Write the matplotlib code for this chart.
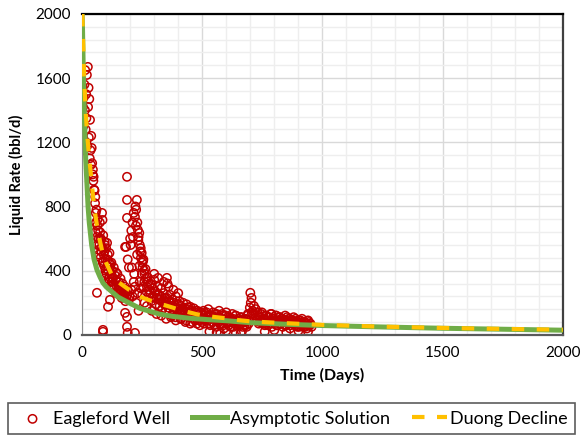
import matplotlib
matplotlib.use('Agg')
import matplotlib.pyplot as plt
from matplotlib.ticker import MultipleLocator

plt.rcParams['font.family'] = ['Lato', 'DejaVu Sans']

# --- measured well rates (days, bbl/d) ---
well_t = [
    2, 4, 5, 7, 8, 10, 12, 13, 15, 17, 18, 20, 22, 24, 25, 27, 28, 30, 32, 33,
    35, 37, 38, 40, 42, 44, 45, 47, 48, 50,
    52, 54, 55, 57, 58, 60, 62, 63, 65, 67, 68, 70, 72, 74, 75, 77, 78, 80, 82, 83,
    85, 87, 88, 90, 92, 94, 95, 97, 98, 100, 102, 104, 105, 107, 108, 110, 112, 114,
    115, 117, 118, 120,
    62, 116, 108, 87, 87,
    122, 124, 125, 127, 130, 132, 135, 137, 140, 142, 145, 147, 150, 152, 155, 158,
    160, 162, 165, 168, 170, 172, 175, 178, 180, 182, 185, 188, 190, 195, 198,
    179, 187, 187, 190, 220, 183, 187, 187, 187, 179, 190, 195,
    200, 205, 210, 215, 220, 222, 225, 228, 230, 232, 235, 238, 240, 242, 245, 248,
    250, 252, 255, 258, 260,
    205, 210, 215, 220, 225, 230, 235, 240, 245, 250, 255, 260,
    265, 270, 275, 280, 285, 290, 295, 300, 305, 310, 315, 320, 325, 330, 335, 340,
    345, 350, 355, 360, 365, 370, 375, 380, 385, 390, 395, 400, 405, 410, 415, 420,
    425, 430, 435, 440, 445, 450, 455, 460, 465, 470, 475, 480, 485, 490, 495, 500,
    270, 290, 310, 330, 350, 370, 390, 410, 430, 450, 470, 490,
    300, 316, 340, 353, 360, 380, 400,
    505, 510, 515, 520, 525, 530, 535, 540, 545, 550, 555, 560, 565, 570, 575, 580,
    585, 590, 595, 600, 605, 610, 615, 620, 625, 630, 635, 640, 645, 650, 655, 660,
    665, 670, 675, 680, 685, 690, 695,
    530, 560, 575, 600, 640, 660,
    700, 702, 705, 698, 710, 706, 715,
    720, 725, 730, 735, 740, 745, 750, 755, 760, 765, 770, 775, 780, 785, 790, 795,
    800, 805, 810, 815, 820, 825, 830, 835, 840, 845, 850, 855, 860, 865, 870, 875,
    880, 885, 890, 895, 900, 905, 910, 915, 920, 925, 930, 935, 940, 945, 950, 955,
    760, 800, 850, 900, 940,
    # second pass over the dense stretches
    56, 64, 71, 79, 86, 93, 99, 106, 113, 119, 126, 134, 141, 149, 156, 164, 171,
    202, 207, 212, 217, 224, 229, 234, 239, 244, 249, 254, 259, 264, 268, 273,
    278, 283, 288, 293, 298, 303, 308, 313, 318, 323, 328, 333, 338, 343, 348,
    353, 358, 363, 368, 373, 378, 383, 388, 393, 398, 403, 408, 413, 418, 423,
    428, 433, 438, 443, 448, 453, 458, 463, 468, 473, 478, 483, 488, 493, 498,
    503, 508, 513, 518, 523, 528, 533, 538, 543, 548, 553, 558, 563, 568, 573,
    578, 583, 588, 593, 598, 603, 608, 613, 618, 623, 628, 633, 638, 643, 648,
    653, 658, 663, 668, 673, 678, 683, 688, 693,
    712, 718, 723, 728, 733, 738, 743, 748, 753, 758, 763, 768, 773, 778, 783,
    788, 793, 798, 803, 808, 813, 818, 823, 828, 833, 838, 843, 848, 853, 858,
    863, 868, 873, 878, 883, 888, 893, 898, 903, 908, 913, 918, 923, 928, 933,
    938, 943, 948,
]
well_q = [
    1545, 1420, 1300, 1480, 1150, 1560, 1400, 1650, 1280, 1500, 1350, 1620, 1180,
    1670, 1420, 1540, 1230, 1470, 1100, 1340, 1150, 1060, 1240, 1165, 1070, 1000,
    1030, 960, 985, 905,
    900, 820, 860, 760, 700, 780, 610, 680, 720, 650, 530, 600, 560, 700, 640, 480,
    600, 520, 548, 760, 716, 460, 620, 500, 430, 580, 560, 400, 470, 540, 380, 573,
    430, 500, 405, 350, 450, 510, 360, 420, 300, 380,
    262, 218, 175, 31, 19,
    450, 330, 400, 360, 310, 420, 290, 370, 340, 260, 300, 380, 280, 330, 250, 300,
    350, 270, 230, 320, 290, 260, 240, 300, 210, 270, 230, 250, 280, 220, 240,
    137, 112, 50, 12, 12, 548, 985, 841, 729, 548, 470, 420,
    600, 650, 700, 760, 735, 800, 780, 841, 700, 654, 610, 635, 560, 520, 480, 510,
    450, 420, 470, 400, 380,
    280, 240, 330, 300, 200, 260, 150, 330, 290, 250, 300, 200,
    350, 300, 330, 280, 260, 310, 240, 343, 270, 230, 300, 250, 220, 290, 200, 260,
    230, 190, 320, 210, 250, 180, 220, 200, 170, 240, 190, 160, 210, 180, 150, 200,
    170, 140, 190, 160, 130, 175, 150, 120, 165, 140, 110, 150, 130, 100, 140, 120,
    180, 150, 130, 120, 100, 110, 90, 100, 80, 70, 90, 60,
    380, 355, 330, 355, 300, 280, 260,
    150, 90, 130, 110, 160, 70, 120, 100, 140, 60, 110, 130, 80, 150, 100, 70,
    120, 40, 90, 140, 110, 60, 100, 80, 130, 50, 90, 120, 70, 100, 60, 110,
    20, 80, 60, 100, 50, 130, 90,
    20, 15, 10, 25, 10, 12,
    262, 200, 230, 170, 150, 137, 180,
    120, 90, 140, 70, 110, 130, 80, 100, 60, 120, 90, 110, 70, 130, 50, 100,
    80, 120, 60, 90, 110, 70, 100, 50, 90, 120, 60, 80, 100, 40, 90, 70,
    110, 60, 80, 50, 90, 70, 60, 100, 50, 80, 70, 40, 90, 60, 70, 50,
    20, 30, 15, 25, 20,
    # second pass
    640, 560, 500, 590, 450, 520, 410, 470, 330, 440, 350, 300, 390, 260, 310, 280, 240,
    560, 420, 610, 380, 680, 500, 590, 430, 540, 380, 460, 330, 410, 270, 360,
    250, 320, 210, 290, 230, 270, 190, 250, 220, 180, 240, 160, 210, 190, 150,
    230, 170, 140, 200, 120, 180, 150, 110, 170, 130, 190, 140, 100, 160, 120,
    150, 90, 130, 170, 110, 140, 80, 120, 100, 150, 70, 130, 90, 110, 80,
    130, 70, 100, 140, 90, 110, 60, 120, 80, 100, 130, 50, 90, 110, 70,
    100, 130, 60, 90, 120, 70, 80, 110, 50, 90, 100, 70, 120, 60, 80,
    90, 70, 110, 50, 100, 80, 60, 120, 70,
    130, 100, 160, 90, 120, 80, 110, 140, 70, 100, 120, 80, 60, 110, 90,
    130, 70, 100, 80, 120, 60, 90, 110, 70, 100, 80, 60, 90, 110, 70,
    100, 60, 80, 90, 70, 100, 60, 80, 50, 90, 70, 60, 80, 50, 70,
    60, 80, 60,
]

# --- asymptotic solution ---
asym_t = [0, 2, 5, 10, 15, 20, 25, 30, 40, 50, 62, 75, 87, 100, 129, 150, 187,
          241, 270, 320, 378, 450, 532, 600, 700, 850, 1000, 1250, 1500, 1750, 2000]
asym_q = [2000, 1900, 1650, 1350, 1100, 950, 800, 700, 560, 470, 405, 360, 324,
          300, 262, 235, 206, 165, 152, 130, 115, 103, 94, 88, 76, 66, 58, 49, 41,
          35, 29]

# --- Duong decline ---
duong_t = [1, 5, 10, 15, 20, 30, 40, 50, 62, 75, 87, 100, 125, 150, 187, 220,
           254, 300, 366, 420, 478, 530, 587, 650, 700, 800, 900, 1000, 1250,
           1500, 1750, 2000]
duong_q = [2000, 1800, 1550, 1400, 1270, 1100, 950, 800, 680, 580, 500, 450,
           370, 330, 290, 255, 230, 205, 175, 150, 128, 115, 105, 92, 84, 76, 69,
           62, 51, 43, 37, 32]

fig = plt.figure(figsize=(5.82, 4.36), dpi=100)
ax = fig.add_axes([0.141, 0.232, 0.826, 0.736])

ax.plot(asym_t, asym_q, color='#70AD47', lw=3.6, zorder=3,
        label='Asymptotic Solution')
ax.scatter(well_t, well_q, s=36, facecolors='none', edgecolors='#C00000',
           linewidths=1.1, zorder=2, label='Eagleford Well')
ax.plot(duong_t, duong_q, color='#FFC000', lw=3.0, dashes=(3, 3), zorder=4,
        label='Duong Decline')

ax.set_xlim(0, 2000)
ax.set_ylim(0, 2000)
ax.xaxis.set_major_locator(MultipleLocator(500))
ax.xaxis.set_minor_locator(MultipleLocator(100))
ax.yaxis.set_major_locator(MultipleLocator(400))
ax.yaxis.set_minor_locator(MultipleLocator(80))
ax.grid(which='major', color='#d9d9d9', lw=1.0)
ax.grid(which='minor', color='#eeeeee', lw=1.0)
ax.set_axisbelow(True)
ax.tick_params(which='both', length=0, labelsize=11, pad=8)

ax.spines['top'].set_color('black')
ax.spines['top'].set_linewidth(1.6)
ax.spines['right'].set_color('#404040')
ax.spines['right'].set_linewidth(1.6)
ax.spines['bottom'].set_color('#5a5a5a')
ax.spines['bottom'].set_linewidth(1.6)
ax.spines['left'].set_color('#8c8c8c')

ax.set_xlabel('Time (Days)', fontsize=11.5, fontweight='bold', labelpad=6)
ax.set_ylabel('Liquid Rate (bbl/d)', fontsize=10.5, fontweight='bold', labelpad=8)

handles, labels = ax.get_legend_handles_labels()
order = [1, 0, 2]
leg = fig.legend([handles[i] for i in order], [labels[i] for i in order],
                 loc='lower left', bbox_to_anchor=(0.014, 0.005, 0.974, 0.077),
                 mode='expand', ncol=3, fontsize=13, frameon=True, fancybox=False,
                 handlelength=1.9, handletextpad=0.2, borderaxespad=0,
                 columnspacing=0.6)
leg.get_frame().set_edgecolor('#333333')
leg.get_frame().set_linewidth(1.2)

fig.savefig('out.png', dpi=100)
